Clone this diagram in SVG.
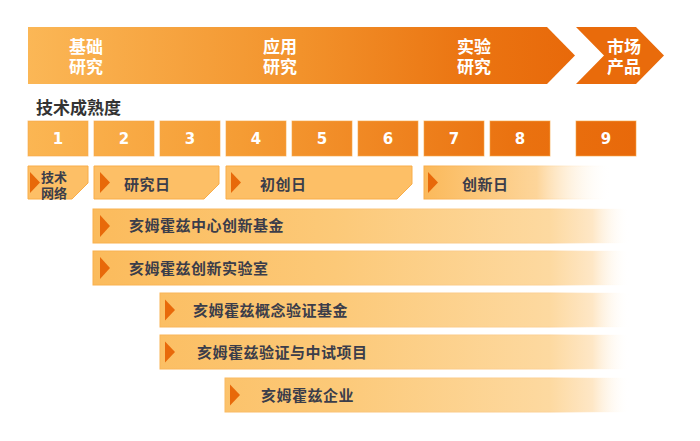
<svg xmlns="http://www.w3.org/2000/svg" width="700" height="441" viewBox="0 0 700 441">
<defs>
<linearGradient id="gBanner" gradientUnits="userSpaceOnUse" x1="28" y1="0" x2="575" y2="0">
<stop offset="0" stop-color="#fbb756"/>
<stop offset="0.5" stop-color="#f2922b"/>
<stop offset="0.8" stop-color="#eb7512"/>
<stop offset="1" stop-color="#e8690a"/>
</linearGradient>
<linearGradient id="gNum" gradientUnits="userSpaceOnUse" x1="28" y1="0" x2="636" y2="0">
<stop offset="0" stop-color="#fbb653"/>
<stop offset="0.35" stop-color="#f59c34"/>
<stop offset="0.6" stop-color="#ef8420"/>
<stop offset="0.8" stop-color="#ea7210"/>
<stop offset="1" stop-color="#e8690a"/>
</linearGradient>
<linearGradient id="gBar" gradientUnits="userSpaceOnUse" x1="93" y1="0" x2="630" y2="0">
<stop offset="0" stop-color="#fbbb5c"/>
<stop offset="0.45" stop-color="#fcc978"/>
<stop offset="0.85" stop-color="#fdd9a0"/>
<stop offset="0.93" stop-color="#fee7c6"/>
<stop offset="1" stop-color="#ffffff" stop-opacity="0"/>
</linearGradient>
<linearGradient id="gBarStroke" gradientUnits="userSpaceOnUse" x1="93" y1="0" x2="630" y2="0">
<stop offset="0" stop-color="#f9b04c"/>
<stop offset="0.85" stop-color="#fcd298"/>
<stop offset="1" stop-color="#ffffff" stop-opacity="0"/>
</linearGradient>
<linearGradient id="gFade" gradientUnits="userSpaceOnUse" x1="424" y1="0" x2="612" y2="0">
<stop offset="0" stop-color="#fbb95a"/>
<stop offset="0.6" stop-color="#fdd59a"/>
<stop offset="1" stop-color="#ffffff" stop-opacity="0"/>
</linearGradient>
<linearGradient id="gFadeStroke" gradientUnits="userSpaceOnUse" x1="424" y1="0" x2="612" y2="0">
<stop offset="0" stop-color="#f9ac48"/>
<stop offset="0.6" stop-color="#fcd092"/>
<stop offset="1" stop-color="#ffffff" stop-opacity="0"/>
</linearGradient>
</defs>
<style>
.cjk{font-family:"Noto Sans CJK SC","Noto Sans",sans-serif;}
.ban{fill:#ffffff;font-size:17px;font-weight:700;}
.num{fill:url(#gNum);stroke:#f7a848;stroke-width:1;stroke-opacity:0.6;}
.numt{fill:#ffffff;font-family:"DejaVu Sans",sans-serif;font-size:15px;font-weight:700;text-anchor:middle;}
.lab{fill:#3b3d4a;font-size:15px;font-weight:700;letter-spacing:0.5px;}
.box{fill:#fdbf66;stroke:#f9ad49;stroke-width:1;}
.bar{fill:url(#gBar);stroke:url(#gBarStroke);stroke-width:1;}
.tri{fill:#e8690a;}
</style>
<rect width="700" height="441" fill="#ffffff"/>

<g id="stage-banner">
<polygon points="28,27 547,27 575,55.5 547,84 28,84" fill="url(#gBanner)"/>
<text class="cjk ban" x="69" y="52.5">基础<tspan x="69" dy="20">研究</tspan></text>
<text class="cjk ban" x="263" y="52.5">应用<tspan x="263" dy="20">研究</tspan></text>
<text class="cjk ban" x="457" y="52.5">实验<tspan x="457" dy="20">研究</tspan></text>
</g>
<g id="stage-market">
<polygon points="576,27 636,27 664,55.5 636,84 576,84 604,55.5" fill="#e96b0b"/>
<text class="cjk ban" x="607" y="52.5">市场<tspan x="607" dy="20">产品</tspan></text>
</g>

<g id="trl-title">
<text class="cjk" x="36" y="113.5" font-size="17" font-weight="700" fill="#333333">技术成熟度</text>
</g>

<g id="trl-levels">
<rect class="num" x="28" y="121" width="60" height="35"/><text class="numt" x="58" y="144">1</text>
<rect class="num" x="94" y="121" width="60" height="35"/><text class="numt" x="124" y="144">2</text>
<rect class="num" x="160" y="121" width="60" height="35"/><text class="numt" x="190" y="144">3</text>
<rect class="num" x="226" y="121" width="60" height="35"/><text class="numt" x="256" y="144">4</text>
<rect class="num" x="292" y="121" width="60" height="35"/><text class="numt" x="322" y="144">5</text>
<rect class="num" x="358" y="121" width="60" height="35"/><text class="numt" x="388" y="144">6</text>
<rect class="num" x="424" y="121" width="60" height="35"/><text class="numt" x="454" y="144">7</text>
<rect class="num" x="490" y="121" width="60" height="35"/><text class="numt" x="520" y="144">8</text>
<rect class="num" x="576" y="121" width="60" height="35"/><text class="numt" x="606" y="144">9</text>
</g>

<g id="tech-network">
<polygon class="box" points="28,166 88,166 88,183 72,199 28,199"/>
<polygon class="tri" points="30,172 40,182.5 30,193"/>
<text class="cjk" x="41" y="182" font-size="13" font-weight="700" fill="#3b3d4a">技术<tspan x="41" dy="16">网络</tspan></text>
</g>
<g id="research-day">
<polygon class="box" points="94,166 219,166 219,184 204,199 94,199"/>
<polygon class="tri" points="100,172 110,182.5 100,193"/>
<text class="cjk lab" x="124" y="189.5">研究日</text>
</g>
<g id="startup-day">
<polygon class="box" points="226,166 412,166 412,184 397,199 226,199"/>
<polygon class="tri" points="231,172 241,182.5 231,193"/>
<text class="cjk lab" x="260" y="189.5">初创日</text>
</g>
<g id="innovation-day">
<rect x="424" y="166" width="188" height="33" fill="url(#gFade)" stroke="url(#gFadeStroke)" stroke-width="1"/>
<polygon class="tri" points="428,172 438,182.5 428,193"/>
<text class="cjk lab" x="462" y="189.5">创新日</text>
</g>

<g id="bar-innovation-fund">
<rect class="bar" x="93" y="209" width="537" height="34"/>
<polygon class="tri" points="100,215 110,226 100,237"/>
<text class="cjk lab" x="129" y="231">亥姆霍兹中心创新基金</text>
</g>
<g id="bar-innovation-lab">
<rect class="bar" x="93" y="251" width="537" height="34"/>
<polygon class="tri" points="100,257 110,268 100,279"/>
<text class="cjk lab" x="129" y="273.5">亥姆霍兹创新实验室</text>
</g>
<g id="bar-poc-fund">
<rect class="bar" x="160" y="293" width="470" height="34"/>
<polygon class="tri" points="165,299.5 175,310 165,320.5"/>
<text class="cjk lab" x="193" y="315.5">亥姆霍兹概念验证基金</text>
</g>
<g id="bar-pilot">
<rect class="bar" x="160" y="335" width="470" height="34"/>
<polygon class="tri" points="165,341.5 175,352 165,362.5"/>
<text class="cjk lab" x="197" y="357.5">亥姆霍兹验证与中试项目</text>
</g>
<g id="bar-enterprise">
<rect class="bar" x="225" y="378" width="405" height="34"/>
<polygon class="tri" points="230,384.5 240,395 230,405.5"/>
<text class="cjk lab" x="261" y="400.5">亥姆霍兹企业</text>
</g>
</svg>
